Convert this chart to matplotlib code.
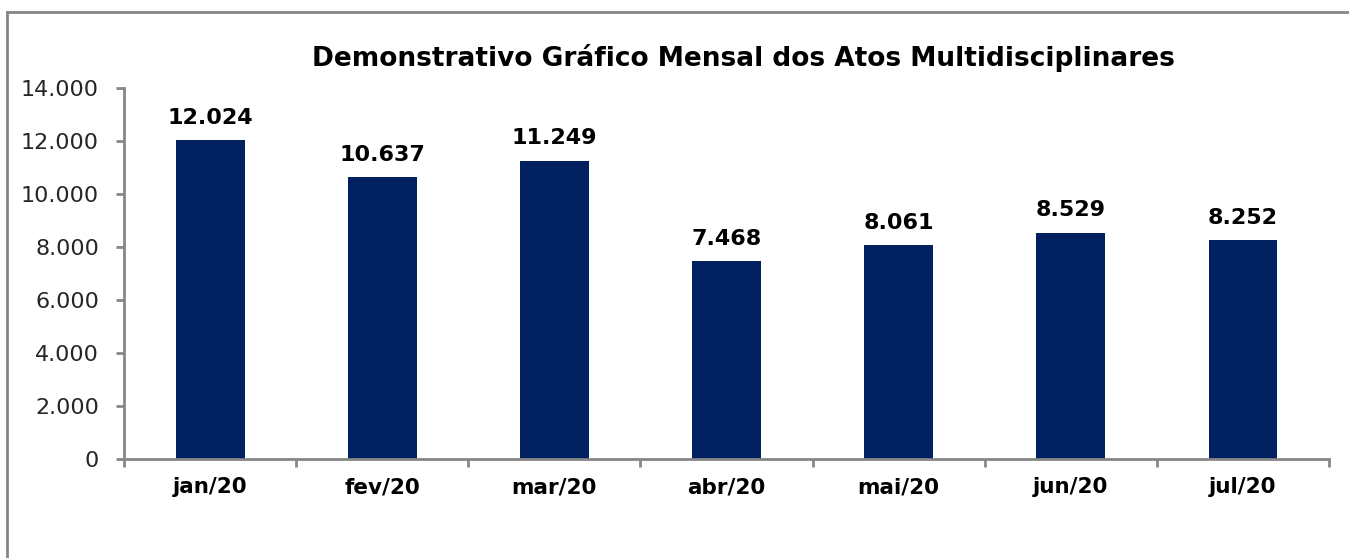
import numpy as np
import matplotlib.pyplot as plt
from matplotlib.lines import Line2D
from matplotlib.ticker import FixedLocator, FuncFormatter

# Monthly data
months = ['jan/20', 'fev/20', 'mar/20', 'abr/20', 'mai/20', 'jun/20', 'jul/20']
atos = [12024, 10637, 11249, 7468, 8061, 8529, 8252]
title = 'Demonstrativo Gráfico Mensal dos Atos Multidisciplinares'

bar_color = '#002060'
axis_color = '#868686'
plt.rcParams['font.family'] = ['DejaVu Sans']

def br_fmt(v, pos=None):
    return f'{int(v):,}'.replace(',', '.')

fig = plt.figure(figsize=(13.49, 5.58), dpi=100)
ax = fig.add_axes([124/1349, 1 - 459/558, (1329 - 124)/1349, (459 - 88)/558])

x = np.arange(len(months))
bars = ax.bar(x, atos, width=0.40, color=bar_color, zorder=2)

for xi, v in zip(x, atos):
    ax.annotate(br_fmt(v), (xi, v), xytext=(0, 9), textcoords='offset points',
                ha='center', va='bottom', fontsize=16, fontweight='bold', color='black')

ax.set_xlim(-0.5, len(months) - 0.5)
ax.set_ylim(0, 14000)
ax.yaxis.set_major_locator(FixedLocator(np.arange(0, 14001, 2000)))
ax.yaxis.set_major_formatter(FuncFormatter(br_fmt))

# ticks between categories on x axis
ax.set_xticks(np.arange(-0.5, len(months)), minor=False)
ax.set_xticklabels([])
ax.set_xticks(x, minor=True)
ax.set_xticklabels(months, minor=True, fontsize=15.5, fontweight='bold')
ax.tick_params(axis='x', which='minor', length=0, pad=13)
ax.tick_params(axis='x', which='major', length=6, width=2, color=axis_color, direction='out')
ax.tick_params(axis='y', length=6, width=2, color=axis_color, direction='out',
               labelsize=16, labelcolor='#262626', pad=12)

for side in ['top', 'right']:
    ax.spines[side].set_visible(False)
for side in ['left', 'bottom']:
    ax.spines[side].set_color(axis_color)
    ax.spines[side].set_linewidth(2)

fig.text(743/1349, 1 - 58/558, title, ha='center', va='center',
         fontsize=19, fontweight='bold', color='black')

# chart area border (only top and left visible in the crop)
fig.add_artist(Line2D([7/1349, 7/1349], [0, 1 - 12/558], transform=fig.transFigure,
                      color=axis_color, lw=2))
fig.add_artist(Line2D([7/1349, 1], [1 - 12/558, 1 - 12/558], transform=fig.transFigure,
                      color=axis_color, lw=2))

fig.savefig('out.png', dpi=100)
